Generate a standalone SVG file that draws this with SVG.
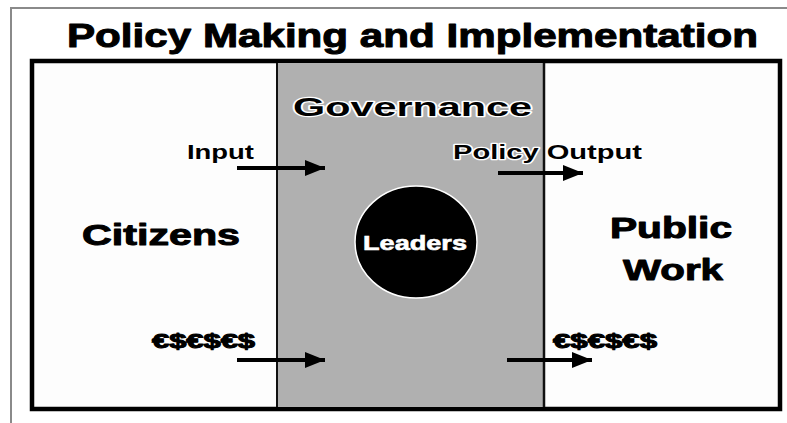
<svg xmlns="http://www.w3.org/2000/svg" width="787" height="423" viewBox="0 0 787 423">
<defs>
<style>
.t{font-family:"Liberation Sans",Arial,sans-serif;font-weight:bold;fill:#000;}
.heavy{stroke:#000;stroke-width:1;stroke-linejoin:round;}
.halo{stroke:#fff;stroke-width:2.5;paint-order:stroke;stroke-linejoin:round;}
.conn{stroke:#000;stroke-width:4;fill:none;marker-end:url(#ah);}
</style>
<marker id="ah" markerUnits="userSpaceOnUse" markerWidth="22" markerHeight="18" refX="20" refY="8" orient="auto">
<path d="M0,0 L20,8 L0,16 z" fill="#000"/>
</marker>
</defs>
<rect x="0" y="0" width="787" height="423" fill="#fff"/>
<path d="M11,423 L11,8 L787,8" fill="none" stroke="#8a8a8a" stroke-width="2"/>
<text class="t heavy" x="67" y="47" font-size="33" textLength="691" lengthAdjust="spacingAndGlyphs">Policy Making and Implementation</text>
<g id="frame">
<rect x="32" y="61" width="748" height="348" fill="#fdfdfd" stroke="#000" stroke-width="4.5"/>
</g>
<g id="governance">
<rect x="277" y="63" width="267" height="344" fill="#b0b0b0"/>
<line x1="277" y1="63" x2="277" y2="407" stroke="#111" stroke-width="2"/>
<line x1="544" y1="63" x2="544" y2="407" stroke="#111" stroke-width="2.5"/>
<text class="t halo" x="293" y="116" font-size="25" textLength="239" lengthAdjust="spacingAndGlyphs">Governance</text>
</g>
<g id="citizens">
<text class="t heavy" x="82" y="245" font-size="30" textLength="158" lengthAdjust="spacingAndGlyphs">Citizens</text>
</g>
<g id="leaders">
<ellipse cx="416" cy="242" rx="61" ry="56" fill="#000" stroke="#fff" stroke-width="1.5"/>
<text class="t" x="363" y="250" font-size="20" style="fill:#fff;stroke:#fff;stroke-width:0.6" textLength="104" lengthAdjust="spacingAndGlyphs">Leaders</text>
</g>
<g id="public-work">
<text class="t heavy" x="610" y="238" font-size="29" textLength="122" lengthAdjust="spacingAndGlyphs">Public</text>
<text class="t heavy" x="623" y="280" font-size="29" textLength="100" lengthAdjust="spacingAndGlyphs">Work</text>
</g>
<g id="connectors">
<line class="conn" x1="237" y1="168" x2="325" y2="168"/>
<line class="conn" x1="498" y1="173" x2="583" y2="173"/>
<line class="conn" x1="237" y1="360" x2="325" y2="360"/>
<line class="conn" x1="507" y1="360" x2="592" y2="360"/>
<text class="t halo" x="187" y="159" font-size="20" textLength="67" lengthAdjust="spacingAndGlyphs">Input</text>
<text class="t halo" x="453" y="159" font-size="20" textLength="189" lengthAdjust="spacingAndGlyphs">Policy Output</text>
<text class="t heavy" x="152" y="348" font-size="20" textLength="103" lengthAdjust="spacingAndGlyphs">€$€$€$</text>
<text class="t heavy" x="553" y="348" font-size="20" textLength="104" lengthAdjust="spacingAndGlyphs">€$€$€$</text>
</g>
</svg>
